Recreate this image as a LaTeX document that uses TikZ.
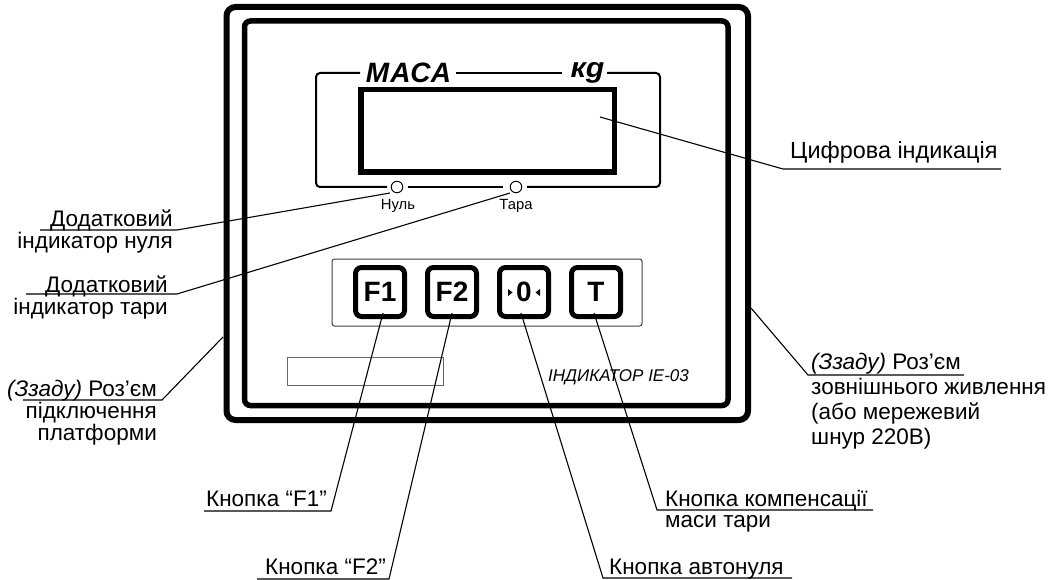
\documentclass[tikz,border=0pt]{standalone}
\usepackage{fontspec}
\setmainfont{Liberation Sans}
\begin{document}
\begin{tikzpicture}[x=1pt,y=-1pt,
  case/.style={draw=black,line width=6pt,rounded corners=9pt},
  bezel/.style={draw=black,line width=5.5pt,rounded corners=6pt},
  frameline/.style={draw=black,line width=2pt,rounded corners=4pt},
  lcd/.style={draw=black,line width=5.5pt},
  panel/.style={draw=black!75,line width=1pt,rounded corners=2.5pt},
  keybox/.style={draw=black,line width=5pt,rounded corners=6pt,minimum width=49pt,minimum height=49pt,inner sep=0pt,anchor=center,font=\fontsize{28}{28}\selectfont\bfseries},
  lamp/.style={circle,draw=black,line width=1pt,fill=white,minimum size=11.5pt,inner sep=0pt},
  plate/.style={draw=black!60,line width=1pt},
  leader/.style={draw=black,line width=1.1pt},
  lab/.style={inner sep=0pt,font=\fontsize{22.5}{22}\selectfont},
  small/.style={inner sep=0pt,font=\fontsize{14.8}{15}\selectfont,anchor=base},
  big/.style={inner sep=0pt,anchor=base,font=\fontsize{28}{28}\selectfont\bfseries\itshape}]
\useasboundingbox (0,0) rectangle (1052,580);
\path[case] (226.5,7) rectangle (748,420);
\path[bezel] (244.5,21) rectangle (728,405.5);
% display
\path[lcd] (360.75,89.75) rectangle (614.25,172.25);
\coordinate (f1) at (360,73);
\coordinate (f2) at (316,73);
\coordinate (f3) at (316,187);
\coordinate (f4) at (387,187);
\coordinate (f5) at (408,187);
\coordinate (f6) at (503,187);
\coordinate (f7) at (527,187);
\coordinate (f8) at (660,187);
\coordinate (f9) at (660,73);
\coordinate (f10) at (607,73);
\coordinate (f11) at (562,73);
\coordinate (f12) at (456,73);
\draw[frameline] (f1) -- (f2) -- (f3) -- (f4);
\draw[frameline] (f5) -- (f6);
\draw[frameline] (f7) -- (f8) -- (f9) -- (f10);
\draw[frameline] (f11) -- (f12);
\node[big] (masa) at (408.5,82.5) {\addfontfeature{LetterSpace=4}МАСА};
\node[big,transform shape,xscale=1.08] (kg) at (587.5,77.5) {кg};
\node[lamp] (nul) at (397,187) {};
\node[lamp] (tar) at (516,187) {};
\node[small] (nultext) at (398,210) {Нуль};
\node[small] (tartext) at (516,210) {Тара};
% keys
\path[panel] (332,259) rectangle (642,326);
\node[keybox] (kf1) at (380,292) {F1};
\node[keybox] (kf2) at (452,292) {F2};
\node[keybox] (kz) at (524,292) {0};
\node[keybox] (kt) at (596,292) {T};
\fill[black] (508,289) -- (508,296) -- (512.5,292.5) -- cycle;
\fill[black] (540,289) -- (540,296) -- (535.5,292.5) -- cycle;
\path[plate] (287,357) rectangle (443,385);
\node[inner sep=0pt,anchor=base west,font=\fontsize{17}{17}\selectfont\itshape] (model) at (548,381) {ІНДИКАТОР IE-03};
% labels
\node[lab,anchor=base west,font=\fontsize{23.4}{24}\selectfont] (ltxt) at (790,159) {Цифрова індикація};
\node[lab,anchor=north east,align=right,font=\fontsize{22.5}{21.5}\selectfont] (lnul) at (173,210) {Додатковий\\індикатор нуля};
\node[lab,anchor=north east,align=right] (ltar) at (168,275.5) {Додатковий\\індикатор тари};
\node[lab,anchor=north east,align=right] (lpl) at (157,380) {\textit{(Ззаду)} Роз’єм\\підключення\\платформи};
\node[lab,anchor=north west,align=left,font=\fontsize{22.5}{25}\selectfont] (lsup) at (811,353) {\textit{(Ззаду)} Роз’єм\\зовнішнього живлення\\(або мережевий\\шнур 220В)};
\node[lab,anchor=base west] (lf1) at (206,506) {Кнопка “F1”};
\node[lab,anchor=base west] (lf2) at (265,574) {Кнопка “F2”};
\node[lab,anchor=base west] (laz) at (609,574) {Кнопка автонуля};
\node[lab,anchor=north west,align=left,font=\fontsize{22.5}{21}\selectfont] (ltr) at (665,489.5) {Кнопка компенсації\\маси тари};
% leaders
\coordinate (pd) at (600,117);
\coordinate (ed) at (783,169);
\coordinate (zd) at (1001,169);
\draw[leader] (pd) -- (ed) -- (zd);
\coordinate (pn) at (390,193);
\coordinate (en) at (177,230);
\coordinate (zn) at (40,230);
\draw[leader] (pn) -- (en) -- (zn);
\coordinate (pt) at (510,193);
\coordinate (et) at (177,294);
\coordinate (zt) at (26,294);
\draw[leader] (pt) -- (et) -- (zt);
\coordinate (pl) at (223,337);
\coordinate (el) at (162,400);
\coordinate (zl) at (23,400);
\draw[leader] (pl) -- (el) -- (zl);
\coordinate (pr) at (751,308);
\coordinate (er) at (808,375);
\coordinate (zr) at (964,375);
\draw[leader] (pr) -- (er) -- (zr);
\coordinate (p1) at (383,313);
\coordinate (e1) at (331,511);
\coordinate (z1) at (204,511);
\draw[leader] (p1) -- (e1) -- (z1);
\coordinate (p2) at (452,313);
\coordinate (e2) at (389,579);
\coordinate (z2) at (257,579);
\draw[leader] (p2) -- (e2) -- (z2);
\coordinate (p3) at (521,313);
\coordinate (e3) at (603,578);
\coordinate (z3) at (792,578);
\draw[leader] (p3) -- (e3) -- (z3);
\coordinate (p4) at (594,313);
\coordinate (e4) at (657,510);
\coordinate (z4) at (873,510);
\draw[leader] (p4) -- (e4) -- (z4);
\end{tikzpicture}
\end{document}
